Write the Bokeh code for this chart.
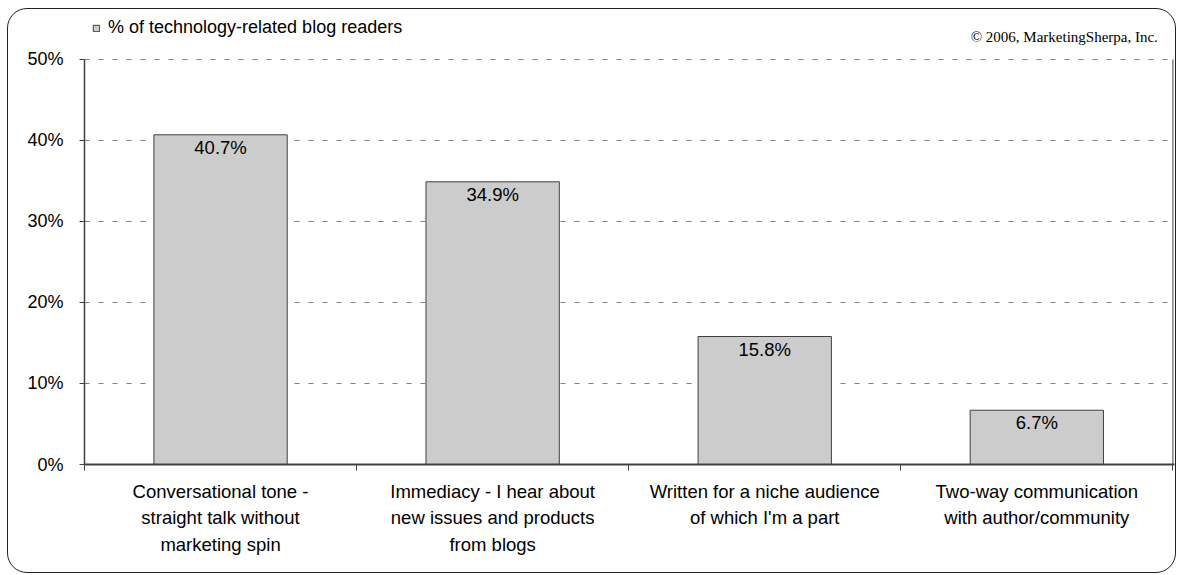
from bokeh.plotting import figure
from bokeh.models import (Range1d, FixedTicker, PrintfTickFormatter, Label,
                          Legend, LegendItem, ColumnDataSource, InlineStyleSheet)
from bokeh.core.properties import value
from bokeh.embed import file_html
from bokeh.resources import INLINE

categories = [
    "Conversational tone -\nstraight talk without\nmarketing spin",
    "Immediacy - I hear about\nnew issues and products\nfrom blogs",
    "Written for a niche audience\nof which I'm a part",
    "Two-way communication\nwith author/community",
]
values = [40.7, 34.9, 15.8, 6.7]
y_ticks = [0, 10, 20, 30, 40, 50]
series_name = "% of technology-related blog readers"
copyright_text = "\u00a9 2006, MarketingSherpa, Inc."

FONT = "Liberation Sans"
n = len(categories)
y_max = max(y_ticks)
xs = [i + 0.5 for i in range(n)]
src = ColumnDataSource(dict(x=xs, top=values, lbl=[f"{v}%" for v in values]))

# frame spans the whole upper area so header texts are not clipped;
# axis and grid are bounded to 0..50
p = figure(width=1178, height=575, output_backend="svg", toolbar_location=None,
           x_range=Range1d(0, n + 0.006), y_range=Range1d(0, 57.28),
           min_border_left=84, min_border_right=4, min_border_top=0,
           min_border_bottom=111, outline_line_color=None)
p.title.visible = False
p.background_fill_color = "white"
p.border_fill_color = "white"

bars = p.vbar(x="x", top="top", width=0.49, source=src, fill_color="#cccccc",
              line_color="#404040", line_width=1)
p.text(x="x", y="top", text="lbl", source=src, text_align="center",
       text_baseline="top", y_offset=2, text_font=value(FONT),
       text_font_size="18.5px", text_color="#000000")

# right frame line of the plot area
p.segment(x0=[n], y0=[0], x1=[n], y1=[y_max], line_color="#808080", line_width=1.5)

# axes
xa = p.xaxis[0]
xa.ticker = FixedTicker(ticks=xs, minor_ticks=list(range(n + 1)))
xa.major_label_overrides = {x: c for x, c in zip(xs, categories)}
xa.major_tick_out = 0
xa.major_tick_in = 0
xa.minor_tick_out = 6
xa.minor_tick_in = 0
xa.minor_tick_line_color = "#404040"
xa.axis_line_color = "#404040"
xa.axis_line_width = 2
xa.major_label_text_font = FONT
xa.major_label_text_font_size = "18.5px"
xa.major_label_text_color = "#000000"
xa.major_label_text_line_height = 1.28
xa.major_label_standoff = 10

ya = p.yaxis[0]
ya.ticker = FixedTicker(ticks=y_ticks, minor_ticks=[])
ya.bounds = (0, y_max)
ya.formatter = PrintfTickFormatter(format="%d%%")
ya.major_tick_out = 5
ya.major_tick_in = 0
ya.major_tick_line_color = "#404040"
ya.axis_line_color = "#404040"
ya.axis_line_width = 1.5
ya.major_label_text_font = FONT
ya.major_label_text_font_size = "18px"
ya.major_label_text_color = "#000000"
ya.major_label_standoff = 16

p.xgrid.grid_line_color = None
p.ygrid.grid_line_color = "#808080"
p.ygrid.grid_line_dash = "5 9"
p.ygrid.grid_line_width = 1

legend = Legend(items=[LegendItem(label=series_name, renderers=[bars])],
                location=(8, 426), glyph_width=8, glyph_height=8,
                label_standoff=8, padding=0, margin=0, spacing=0,
                label_height=18, border_line_color=None, background_fill_alpha=0,
                label_text_font=FONT, label_text_font_size="18px",
                label_text_color="#000000")
p.add_layout(legend, "center")

p.add_layout(Label(x=n, y=y_max, text=copyright_text, text_align="right",
                   text_baseline="middle", x_offset=-15, y_offset=22,
                   text_font="Liberation Serif", text_font_size="15px",
                   text_color="#000000"))

p.stylesheets = [InlineStyleSheet(css="""
:host::after {
  content: ""; position: absolute; left: 7px; top: 8px;
  width: 1169px; height: 565px; box-sizing: border-box;
  border: 1.5px solid #222222; border-radius: 20px; pointer-events: none;
}
""")]

open("out.html", "w").write(file_html(p, INLINE))
